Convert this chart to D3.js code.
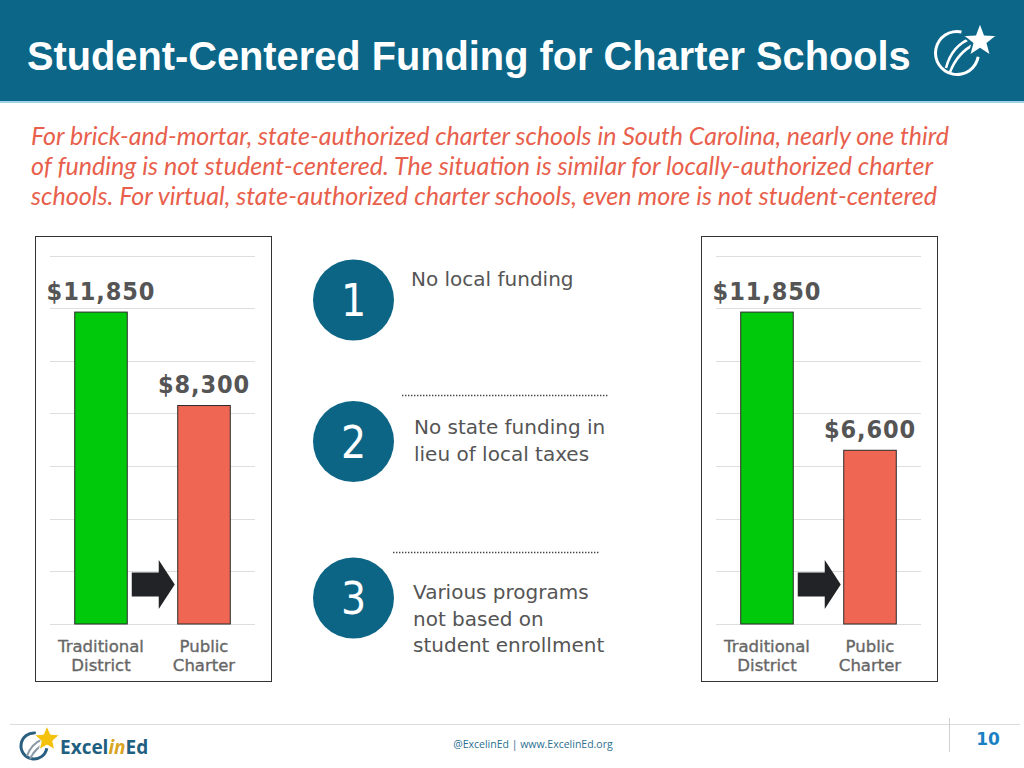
<!DOCTYPE html>
<html><head><meta charset="utf-8">
<script src="https://cdn.jsdelivr.net/npm/d3@7"></script>
<style>body{margin:0;background:#fff}svg{display:block}</style>
</head><body>
<svg id="c" width="1024" height="768"></svg>
<script>
// ---------- data ----------
const title = "Student-Centered Funding for Charter Schools";
const subtitleLines = [
  "For brick-and-mortar, state-authorized charter schools in South Carolina, nearly one third",
  "of funding is not student-centered. The situation is similar for locally-authorized charter",
  "schools. For virtual, state-authorized charter schools, even more is not student-centered"
];
const categories = ["Traditional District", "Public Charter"];
const categoryLines = [["Traditional", "District"], ["Public", "Charter"]];
const brickAndMortarValues = [11850, 8300];
const virtualValues = [11850, 6600];
const yTicks = [0, 2000, 4000, 6000, 8000, 10000, 12000, 14000];
const reasonNumbers = ["1", "2", "3"];
const reasonLines = [
  ["No local funding"],
  ["No state funding in", "lieu of local taxes"],
  ["Various programs", "not based on", "student enrollment"]
];
const footerText = "@ExcelinEd | www.ExcelinEd.org";
const pageNumber = "10";

// ---------- setup ----------
const svg = d3.select("#c");
const fmt = d3.format("$,");

// header
svg.append("rect").attr("x",0).attr("y",0).attr("width",1024).attr("height",101).attr("fill","#0b6688");
svg.append("rect").attr("x",0).attr("y",101).attr("width",1024).attr("height",2).attr("fill","#9fd3e6");
const tt = svg.append("text").attr("x",27).attr("y",70)
  .attr("font-family","'Liberation Sans', Arial, sans-serif").attr("font-weight","bold")
  .attr("font-size",36).attr("fill","#fff").text(title);
{ const w = tt.node().getComputedTextLength(); tt.attr("font-size", 36*884/w); }

// header logo
function starPath(cx, cy, R, r, rot) {
  const pts = [];
  for (let i = 0; i < 10; i++) {
    const a = -Math.PI/2 + i*Math.PI/5 + (rot||0);
    const rr = i % 2 ? r : R;
    pts.push([cx + rr*Math.cos(a), cy + rr*Math.sin(a)]);
  }
  return "M" + pts.map(p => p.join(",")).join("L") + "Z";
}
const hl = svg.append("g");
hl.append("path").attr("transform","translate(957,53)")
  .attr("d", d3.arc()({innerRadius:20, outerRadius:23, startAngle: 100*Math.PI/180, endAngle: 372*Math.PI/180}))
  .attr("fill","#fff");
hl.append("path").attr("d","M946,68 Q952,45 972,38").attr("stroke","#fff").attr("stroke-width",2.5).attr("fill","none");
hl.append("path").attr("d","M950,72 Q958,52 975,44").attr("stroke","#fff").attr("stroke-width",2.5).attr("fill","none");
hl.append("path").attr("d", starPath(980, 41, 19, 8)).attr("fill","#fff").attr("stroke","#0b6688").attr("stroke-width",2);

// subtitle
const subG = svg.append("g").attr("font-family","Lato, 'Open Sans', sans-serif").attr("font-style","italic").attr("fill","#e8604c");
const subBaselines = [145, 175, 205];
const subWidths = [918, 902, 906];
const s0 = subG.append("text").attr("x",31).attr("y",subBaselines[0]).attr("font-size",22).text(subtitleLines[0]);
const subFs = 22*subWidths[0]/s0.node().getComputedTextLength();
s0.remove();
subtitleLines.forEach((t,i) => {
  subG.append("text").attr("x",31).attr("y",subBaselines[i]).attr("font-size",subFs)
    .attr("textLength",subWidths[i]).attr("lengthAdjust","spacingAndGlyphs").text(t);
});

// ---------- bar panels ----------
function panel(originX, values) {
  const g = svg.append("g").attr("transform",`translate(${originX},0)`);
  g.append("rect").attr("x",0.5).attr("y",236.5).attr("width",236).attr("height",445)
    .attr("fill","#fff").attr("stroke","#333").attr("stroke-width",1);
  const x = d3.scaleBand().domain(categories).range([15,220]).paddingInner(0.49).paddingOuter(0.24);
  const y = d3.scaleLinear().domain([0,14000]).range([624,255.5]);
  g.append("g").selectAll("line").data(yTicks).join("line")
    .attr("x1",15).attr("x2",220).attr("y1",d=>Math.round(y(d))+0.5).attr("y2",d=>Math.round(y(d))+0.5)
    .attr("stroke","#dedede").attr("stroke-width",1);
  g.append("g").selectAll("rect").data(values).join("rect")
    .attr("x",(d,i)=>x(categories[i])).attr("width",x.bandwidth())
    .attr("y",d=>y(d)).attr("height",d=>y(0)-y(d))
    .attr("fill",(d,i)=> i===0 ? "#00c80a" : "#ef6652")
    .attr("stroke","#2b2b2b").attr("stroke-width",1);
  g.append("g").selectAll("text").data(values).join("text")
    .attr("x",(d,i)=>x(categories[i])+x.bandwidth()/2).attr("y",d=>y(d)-12.5)
    .attr("text-anchor","middle").attr("font-family","'DejaVu Sans Condensed','DejaVu Sans',sans-serif")
    .attr("font-stretch","condensed").attr("font-weight","bold").attr("font-size",25)
    .attr("letter-spacing",0.9).attr("fill","#555")
    .text(d=>fmt(d));
  const lab = g.append("g").attr("font-family","'DejaVu Sans',sans-serif").attr("font-size",16.5)
    .attr("fill","#666").attr("stroke","#666").attr("stroke-width",0.35).attr("text-anchor","middle");
  categoryLines.forEach((lines,i) => {
    lines.forEach((t,j) => {
      lab.append("text").attr("x",x(categories[i])+x.bandwidth()/2).attr("y",651.5+j*19).text(t);
    });
  });
  // arrow between bars
  const ax0 = x(categories[0]) + x.bandwidth() + 4.5, ax1 = x(categories[1]) - 3;
  const ay = y(1500), axm = ax1 - 16;
  g.append("path").attr("d",
    `M${ax0},${ay-12}L${axm},${ay-12}L${axm},${ay-24.5}L${ax1},${ay}L${axm},${ay+24.5}L${axm},${ay+12}L${ax0},${ay+12}Z`)
    .attr("fill","#222326");
}
panel(35, brickAndMortarValues);
panel(701, virtualValues);

// ---------- middle reasons ----------
const circleY = [300, 441.5, 598];
const textBase = [285.7, 434.3, 599.3];
const textX = [411, 414, 413];
const mid = svg.append("g");
reasonNumbers.forEach((n,i) => {
  mid.append("circle").attr("cx",353.5).attr("cy",circleY[i]).attr("r",40.5).attr("fill","#0d6586");
  mid.append("text").attr("x",353.5).attr("y",circleY[i]+16).attr("text-anchor","middle")
    .attr("font-family","'DejaVu Sans Condensed','DejaVu Sans',sans-serif").attr("font-stretch","condensed")
    .attr("font-size",44).attr("fill","#fff").text(n);
  reasonLines[i].forEach((t,j) => {
    mid.append("text").attr("x",textX[i]).attr("y",textBase[i]+j*26.5)
      .attr("font-family","'DejaVu Sans',sans-serif").attr("font-size",20).attr("fill","#555").text(t);
  });
});
mid.append("line").attr("x1",402).attr("x2",608).attr("y1",395.5).attr("y2",395.5)
  .attr("stroke","#444").attr("stroke-width",1.6).attr("stroke-dasharray","1.4,1.6");
mid.append("line").attr("x1",393).attr("x2",600).attr("y1",552.5).attr("y2",552.5)
  .attr("stroke","#444").attr("stroke-width",1.6).attr("stroke-dasharray","1.4,1.6");

// ---------- footer ----------
svg.append("line").attr("x1",10).attr("x2",1020).attr("y1",724.5).attr("y2",724.5).attr("stroke","#dcdcdc");
svg.append("line").attr("x1",949.5).attr("x2",949.5).attr("y1",718).attr("y2",752).attr("stroke","#d0d0d0");
svg.append("text").attr("x",988).attr("y",745).attr("text-anchor","middle")
  .attr("font-family","'DejaVu Sans',sans-serif").attr("font-weight","bold").attr("font-size",17)
  .attr("fill","#1b7fc4").text(pageNumber);
svg.append("text").attr("x",533).attr("y",748).attr("text-anchor","middle")
  .attr("font-family","'Open Sans',sans-serif").attr("font-size",10.5).attr("fill","#2a6f90").text(footerText);
// footer logo
const fl = svg.append("g");
fl.append("path").attr("transform","translate(34,746)")
  .attr("d", d3.arc()({innerRadius:11.5, outerRadius:14.5, startAngle: 100*Math.PI/180, endAngle: 368*Math.PI/180}))
  .attr("fill","#2a5f7f");
fl.append("path").attr("d","M27,756 Q31,744 43,739").attr("stroke","#8a9aa6").attr("stroke-width",2).attr("fill","none");
fl.append("path").attr("d","M30,759 Q35,748 46,743").attr("stroke","#8a9aa6").attr("stroke-width",2).attr("fill","none");
fl.append("path").attr("d", starPath(47, 739, 13, 6)).attr("fill","#f4c20d").attr("stroke","#fff").attr("stroke-width",1);
const lt = fl.append("text").attr("x",60).attr("y",753.5).attr("font-family","'Open Sans',sans-serif")
  .attr("font-weight","bold").attr("font-size",19).attr("fill","#1f5f80");
lt.append("tspan").text("Excel");
lt.append("tspan").attr("fill","#d9a520").attr("font-style","italic").text("in");
lt.append("tspan").text("Ed");
</script>
</body></html>
